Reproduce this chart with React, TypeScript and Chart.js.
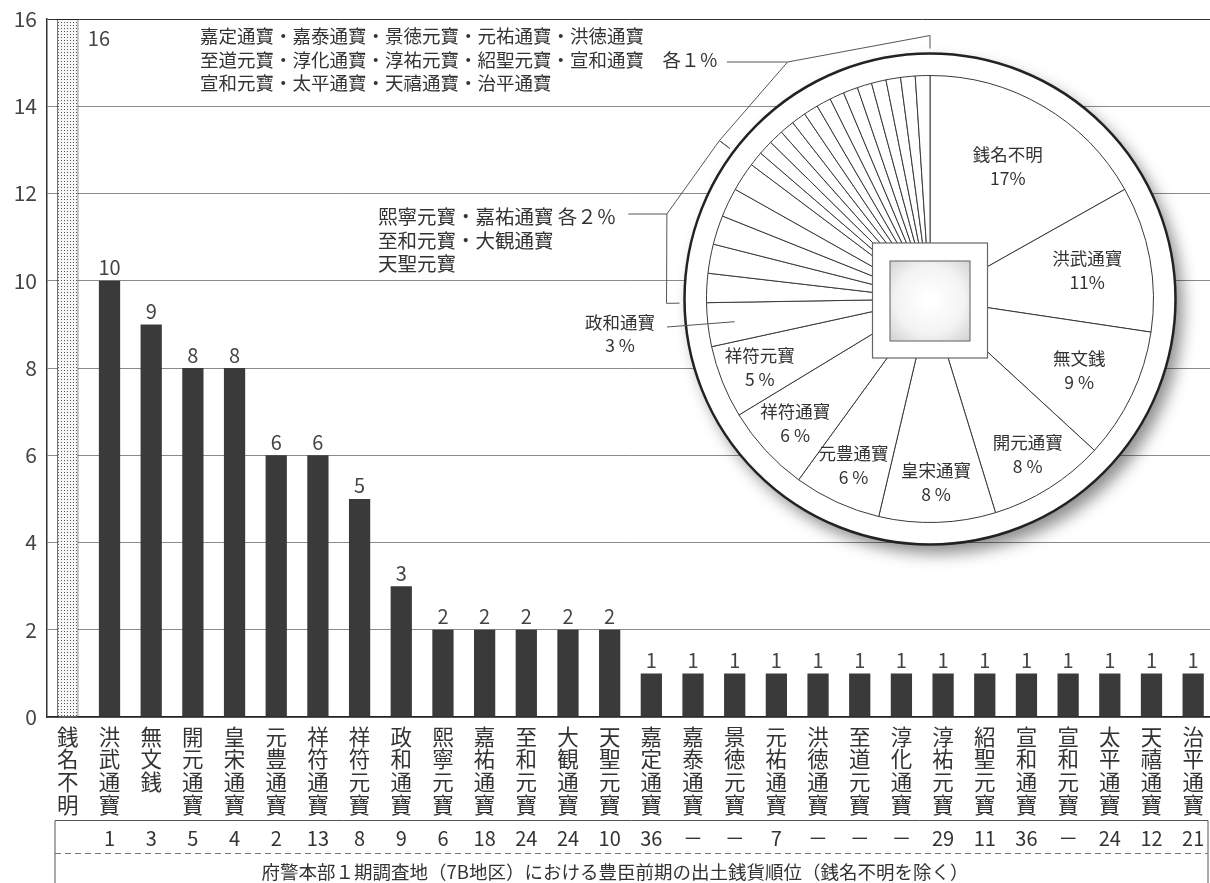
import React, { useEffect, useRef } from "react";
import { Chart, registerables } from "chart.js";
Chart.register(...registerables);

const categories = ["銭名不明","洪武通寶","無文銭","開元通寶","皇宋通寶","元豊通寶","祥符通寶","祥符元寶","政和通寶","熙寧元寶","嘉祐通寶","至和元寶","大観通寶","天聖元寶","嘉定通寶","嘉泰通寶","景徳元寶","元祐通寶","洪徳通寶","至道元寶","淳化通寶","淳祐元寶","紹聖元寶","宣和通寶","宣和元寶","太平通寶","天禧通寶","治平通寶"];
const counts = [16,10,9,8,8,6,6,5,3,2,2,2,2,2,1,1,1,1,1,1,1,1,1,1,1,1,1,1];
const ranks = ["","1","3","5","4","2","13","8","9","6","18","24","24","10","36","－","－","7","－","－","－","29","11","36","－","24","12","21"];
const yTickValues = [0,2,4,6,8,10,12,14,16];
const caption = "府警本部１期調査地（7B地区）における豊臣前期の出土銭貨順位（銭名不明を除く）";
const insideCount = 8;          // slices labelled inside the pie
const group2 = [9, 13];        // 2% group (index range)
const group1 = [14, 27];       // 1% group (index range)
const singleOutside = 8;       // 政和通寶

const FONT = '"Noto Sans CJK JP", "Noto Sans", sans-serif';

function pct(v: number) {
  const total = counts.reduce((a, b) => a + b, 0);
  return Math.round((v / total) * 100);
}

function makeDots(): CanvasPattern | string {
  const c = document.createElement("canvas");
  c.width = 3; c.height = 3;
  const g = c.getContext("2d");
  if (!g) return "#ddd";
  g.fillStyle = "#f7f7f7"; g.fillRect(0, 0, 3, 3);
  g.fillStyle = "#555"; g.fillRect(1, 1, 1, 1);
  return g.createPattern(c, "repeat") || "#ddd";
}

const barPlugin = {
  id: "barExtras",
  afterDraw(chart: any) {
    const ctx = chart.ctx;
    const meta = chart.getDatasetMeta(0);
    const xs = chart.scales.x;
    ctx.save();
    // value labels
    ctx.fillStyle = "#444";
    ctx.font = `20px ${FONT}`;
    meta.data.forEach((bar: any, i: number) => {
      if (i === 0) {
        ctx.textAlign = "left"; ctx.textBaseline = "middle";
        ctx.fillText(String(counts[i]), bar.x + 20, chart.chartArea.top + 19);
      } else {
        ctx.textAlign = "center"; ctx.textBaseline = "bottom";
        ctx.fillText(String(counts[i]), bar.x, bar.y - 3);
      }
    });
    // table
    const L = 55, Rr = 1208, T = 820, D = 853, B = 900;
    ctx.strokeStyle = "#555"; ctx.lineWidth = 1;
    ctx.beginPath();
    ctx.moveTo(L, B); ctx.lineTo(L, T + 0.5); ctx.lineTo(Rr, T + 0.5); ctx.lineTo(Rr, B);
    ctx.stroke();
    ctx.setLineDash([6, 4]);
    ctx.strokeStyle = "#777";
    ctx.beginPath(); ctx.moveTo(L, D + 0.5); ctx.lineTo(Rr, D + 0.5); ctx.stroke();
    ctx.setLineDash([]);
    ctx.fillStyle = "#333";
    ctx.font = `20px ${FONT}`;
    ctx.textAlign = "center"; ctx.textBaseline = "middle";
    ranks.forEach((r, i) => {
      if (r) ctx.fillText(r, xs.getPixelForValue(i), 838);
    });
    ctx.font = `18.5px ${FONT}`;
    ctx.fillText(caption, 615, 872);
    ctx.restore();
  },
};

function pt(cx: number, cy: number, a: number, r: number) {
  return [cx + r * Math.cos(a), cy + r * Math.sin(a)];
}

const coinPlugin = {
  id: "coin",
  beforeDatasetsDraw(chart: any) {
    const arc = chart.getDatasetMeta(0).data[0];
    const cx = arc.x, cy = arc.y, R = arc.outerRadius;
    const ctx = chart.ctx;
    ctx.save();
    ctx.beginPath();
    ctx.arc(cx, cy, R + 22, 0, Math.PI * 2);
    ctx.shadowColor = "rgba(0,0,0,0.45)";
    ctx.shadowBlur = 16; ctx.shadowOffsetX = 7; ctx.shadowOffsetY = 9;
    ctx.fillStyle = "#fff"; ctx.fill();
    ctx.shadowColor = "transparent"; ctx.shadowBlur = 0; ctx.shadowOffsetX = 0; ctx.shadowOffsetY = 0;
    ctx.lineWidth = 2.5; ctx.strokeStyle = "#222"; ctx.stroke();
    ctx.restore();
  },
  afterDatasetsDraw(chart: any) {
    const arcs = chart.getDatasetMeta(0).data;
    const cx = arcs[0].x, cy = arcs[0].y, R = arcs[0].outerRadius;
    const ctx = chart.ctx;
    ctx.save();
    // square hole
    ctx.fillStyle = "#fff"; ctx.strokeStyle = "#666"; ctx.lineWidth = 1.2;
    ctx.fillRect(cx - 57.5, cy - 56, 115, 115);
    ctx.strokeRect(cx - 57.5, cy - 56, 115, 115);
    const g = ctx.createRadialGradient(cx, cy + 1, 5, cx, cy + 1, 58);
    g.addColorStop(0, "#ffffff"); g.addColorStop(0.55, "#f3f3f3"); g.addColorStop(1, "#cfcfcf");
    ctx.fillStyle = g;
    ctx.fillRect(cx - 40, cy - 38, 80, 80);
    ctx.strokeStyle = "#777";
    ctx.strokeRect(cx - 40, cy - 38, 80, 80);

    // inside labels
    ctx.fillStyle = "#333";
    ctx.textAlign = "center"; ctx.textBaseline = "middle";
    for (let i = 0; i < insideCount; i++) {
      const a = arcs[i];
      const m = (a.startAngle + a.endAngle) / 2;
      const rf = i < 3 ? 0.69 + i * 0.025 : 0.82;
      const [x, y] = pt(cx, cy, m, R * rf);
      ctx.font = `17.5px ${FONT}`;
      ctx.fillText(categories[i], x, y - 12);
      const p = pct(counts[i]);
      ctx.fillText(p >= 10 ? `${p}%` : `${p} %`, x, y + 12);
    }

    // 政和通寶 outside
    {
      const a = arcs[singleOutside];
      const m = (a.startAngle + a.endAngle) / 2;
      const [ex, ey] = pt(cx, cy, m, R * 0.88);
      ctx.font = `17.5px ${FONT}`;
      ctx.fillText(categories[singleOutside], 620, 322);
      ctx.fillText(`${pct(counts[singleOutside])} %`, 620, 345);
      ctx.strokeStyle = "#555"; ctx.lineWidth = 1;
      ctx.beginPath(); ctx.moveTo(667, 327); ctx.lineTo(ex, ey); ctx.stroke();
    }

    const drawBracket = (g: number[], leaderY: number, textEndX: number) => {
      const s = arcs[g[0]].startAngle, e = arcs[g[1]].endAngle;
      const rA = R + 53;
      const dy = leaderY - cy;
      const ax = cx - Math.sqrt(Math.max(rA * rA - dy * dy, 0));
      const p1 = pt(cx, cy, s, R + 27), p2 = pt(cx, cy, s, R + 40);
      const p4 = pt(cx, cy, e, R + 40), p5 = pt(cx, cy, e, R + 27);
      ctx.strokeStyle = "#555"; ctx.lineWidth = 1;
      ctx.beginPath();
      ctx.moveTo(p1[0], p1[1]); ctx.lineTo(p2[0], p2[1]); ctx.lineTo(ax, leaderY);
      ctx.lineTo(p4[0], p4[1]); ctx.lineTo(p5[0], p5[1]);
      ctx.stroke();
      ctx.beginPath(); ctx.moveTo(ax, leaderY); ctx.lineTo(textEndX, leaderY); ctx.stroke();
    };

    // 1% group text
    ctx.textAlign = "left"; ctx.textBaseline = "middle"; ctx.fillStyle = "#333";
    ctx.font = `18.5px ${FONT}`;
    const g1 = categories.slice(group1[0], group1[1] + 1);
    const g1Lines = [g1.slice(0, 5).join("・"), g1.slice(5, 10).join("・") + `　各${String.fromCharCode(0xff10 + pct(1))}％`, g1.slice(10).join("・")];
    const g1Y = [36, 60, 83];
    g1Lines.forEach((t, i) => ctx.fillText(t, 200, g1Y[i]));
    const w1 = ctx.measureText(g1Lines[1]).width;
    drawBracket(group1, 62, 200 + w1 + 9);

    // 2% group text
    ctx.font = `19.5px ${FONT}`;
    const g2 = categories.slice(group2[0], group2[1] + 1);
    const g2Lines = [g2.slice(0, 2).join("・") + ` 各${String.fromCharCode(0xff10 + pct(2))}％`, g2.slice(2, 4).join("・"), g2.slice(4).join("・")];
    const g2Y = [217, 241, 264];
    g2Lines.forEach((t, i) => ctx.fillText(t, 378, g2Y[i]));
    const w2 = ctx.measureText(g2Lines[0]).width;
    drawBracket(group2, 214, 378 + w2 + 12);

    ctx.restore();
  },
};

export default function App() {
  const barRef = useRef<HTMLCanvasElement>(null);
  const pieRef = useRef<HTMLCanvasElement>(null);

  useEffect(() => {
    if (!barRef.current || !pieRef.current) return;
    const dots = makeDots();
    const bar = new Chart(barRef.current, {
      type: "bar",
      data: {
        labels: categories.map((c) => c.split("")),
        datasets: [{
          data: counts,
          backgroundColor: counts.map((_, i) => (i === 0 ? dots : "#3a3a3a")) as any,
          borderColor: counts.map((_, i) => (i === 0 ? "#222" : "#3a3a3a")),
          borderWidth: counts.map((_, i) => (i === 0 ? 1 : 0)),
          barPercentage: 0.51,
          categoryPercentage: 1,
        }],
      },
      options: {
        animation: false,
        responsive: false,
        maintainAspectRatio: false,
        layout: { padding: { top: 19, right: 6, left: 0, bottom: 0 } },
        plugins: { legend: { display: false }, tooltip: { enabled: false } },
        scales: {
          x: {
            grid: { display: false, drawTicks: false },
            border: { display: true, color: "#222", width: 1.5 },
            ticks: {
              autoSkip: false, maxRotation: 0, minRotation: 0, padding: 8,
              font: { family: FONT, size: 21.5, lineHeight: 1.06 }, color: "#333",
            },
            afterFit: (s: any) => { s.height = 166; },
          },
          y: {
            min: 0, max: 16,
            afterBuildTicks: (s: any) => { s.ticks = yTickValues.map((v) => ({ value: v })); },
            ticks: { font: { family: FONT, size: 21 }, color: "#444", padding: 10 },
            grid: {
              color: (c: any) => (c.tick && c.tick.value === 16 ? "#333" : "#8a8a8a"),
              drawTicks: false, lineWidth: 1,
            },
            border: { display: true, color: "#333", width: 1.5 },
            afterFit: (s: any) => { s.width = 47; s.paddingTop = 0; s.paddingBottom = 0; },
          },
        },
      },
      plugins: [barPlugin],
    });

    const pie = new Chart(pieRef.current, {
      type: "pie",
      data: {
        labels: categories,
        datasets: [{ data: counts, backgroundColor: "#ffffff", borderColor: "#3a3a3a", borderWidth: 1 }],
      },
      options: {
        animation: false,
        responsive: false,
        maintainAspectRatio: false,
        layout: { padding: { left: 706, right: 1210 - 1154, top: 75, bottom: 883 - 523 } },
        plugins: { legend: { display: false }, tooltip: { enabled: false } },
      },
      plugins: [coinPlugin],
    });

    return () => { bar.destroy(); pie.destroy(); };
  }, []);

  return (
    <div style={{ position: "absolute", left: 0, top: 0, width: 1210, height: 883, overflow: "hidden", background: "#fff" }}>
      <canvas ref={barRef} width={1220} height={883} style={{ position: "absolute", left: 0, top: 0 }} />
      <canvas ref={pieRef} width={1210} height={883} style={{ position: "absolute", left: 0, top: 0 }} />
    </div>
  );
}
